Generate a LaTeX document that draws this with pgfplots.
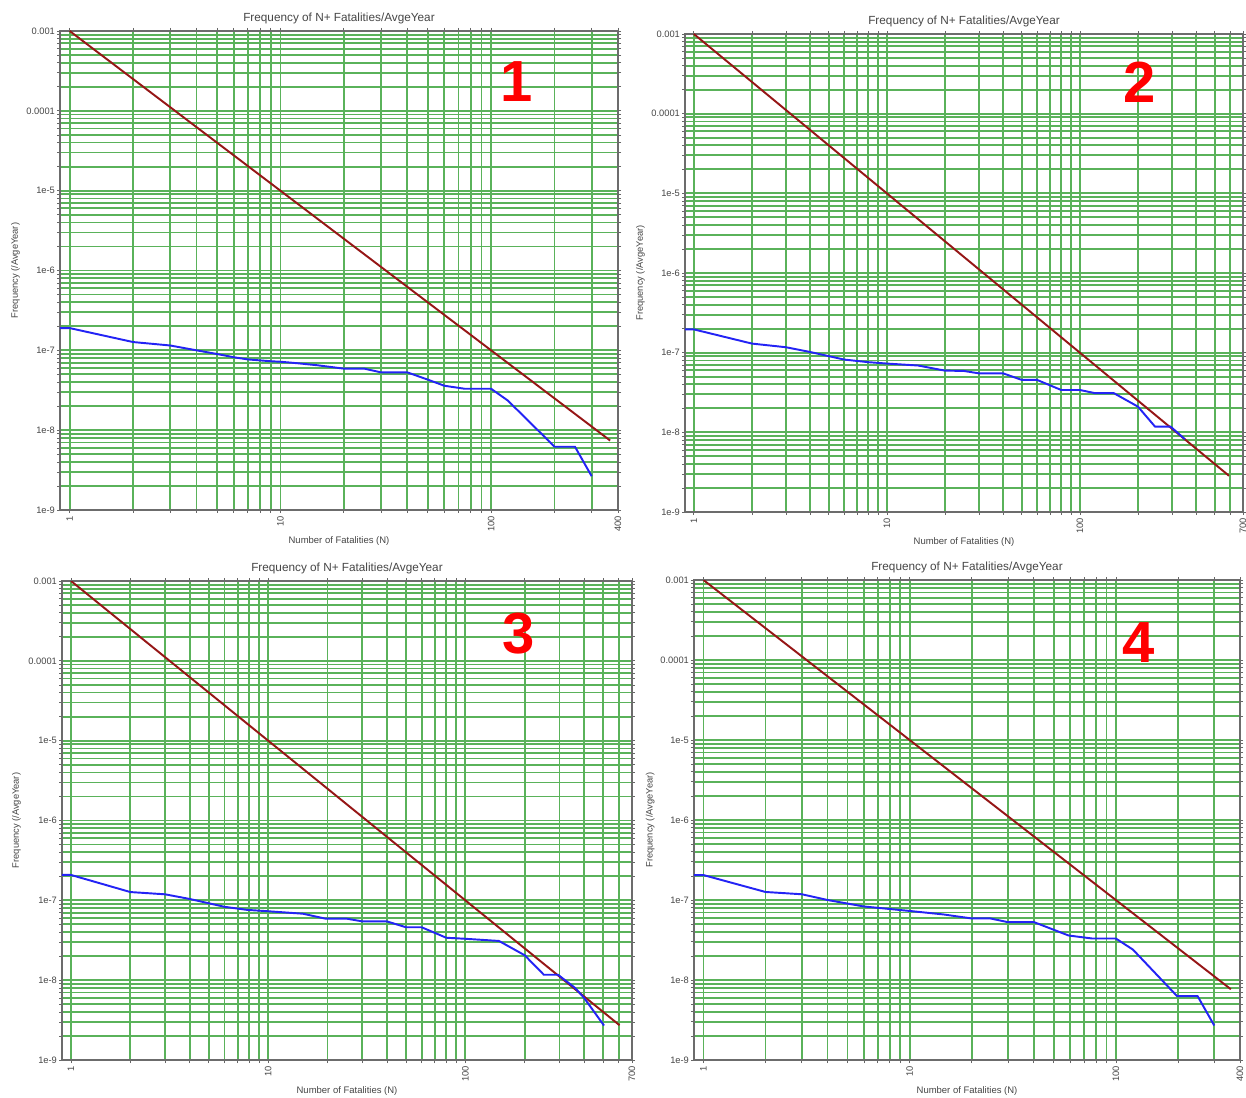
\documentclass[border=0pt]{standalone}
\usepackage{fontspec}
\setmainfont{Liberation Sans}
\usepackage{pgfplots}
\usepackage{pgfplotstable}
\pgfplotsset{compat=1.18}
\definecolor{gridgreen}{RGB}{90,178,90}
\definecolor{fnred}{RGB}{150,22,22}
\definecolor{fnblue}{RGB}{35,35,245}
\definecolor{labgray}{RGB}{70,70,70}
\pgfplotsset{
 fnaxis/.style={
  scale only axis,
  xmin=0.9, ymin=1e-9, ymax=1e-3,
  ytick={1e-9,2e-9,3e-9,4e-9,5e-9,6e-9,7e-9,8e-9,9e-9,1e-8,2e-8,3e-8,4e-8,5e-8,6e-8,7e-8,8e-8,9e-8,1e-7,2e-7,3e-7,4e-7,5e-7,6e-7,7e-7,8e-7,9e-7,1e-6,2e-6,3e-6,4e-6,5e-6,6e-6,7e-6,8e-6,9e-6,1e-5,2e-5,3e-5,4e-5,5e-5,6e-5,7e-5,8e-5,9e-5,1e-4,2e-4,3e-4,4e-4,5e-4,6e-4,7e-4,8e-4,9e-4,1e-3},
  yticklabels={1e-9,,,,,,,,,1e-8,,,,,,,,,1e-7,,,,,,,,,1e-6,,,,,,,,,1e-5,,,,,,,,,0.0001,,,,,,,,,0.001},
  grid=major,
  every axis grid/.style={draw=gridgreen, line width=1pt},
  every major grid/.style={draw=gridgreen, line width=1pt},
  axis line style={draw=gray!85!black, line width=0.8pt},
  tick align=outside,
  major tick length=0.06cm,
  every tick/.style={draw=gray!80!black, line width=0.4pt},
  tick label style={font=\fontsize{5.3}{6}\selectfont, text=labgray},
  yticklabel style={anchor=east, inner sep=1pt},
  xticklabel style={rotate=90, anchor=east, inner sep=1.5pt},
  every axis title/.style={at={(axis description cs:0.5,1.02)}, anchor=base, font=\fontsize{6.7}{8}\selectfont, text=labgray},
  title={Frequency of N+ Fatalities/AvgeYear},
  xlabel style={at={(axis description cs:0.5,-0.069)}, anchor=base, font=\fontsize{5.4}{6}\selectfont, text=labgray},
  xlabel={Number of Fatalities (N)},
  ylabel style={at={(axis description cs:-0.08,0.5)}, anchor=center, font=\fontsize{5.3}{6}\selectfont, text=labgray},
  ylabel={Frequency (/AvgeYear)},
 },
 xfour/.style={xmax=400,
  xtick={1,2,3,4,5,6,7,8,9,10,20,30,40,50,60,70,80,90,100,200,300,400},
  xticklabels={1,,,,,,,,,10,,,,,,,,,100,,,400}},
 xseven/.style={xmax=700,
  xtick={1,2,3,4,5,6,7,8,9,10,20,30,40,50,60,70,80,90,100,200,300,400,500,600,700},
  xticklabels={1,,,,,,,,,10,,,,,,,,,100,,,,,,700}},
}

\pgfplotstableread{
N F
1 1e-3
367 7.42e-9
}\redA
\pgfplotstableread{
N F
1 1e-3
592 2.85e-9
}\redB
\pgfplotstableread{
N F
1 1e-3
605 2.73e-9
}\redC
\pgfplotstableread{
N F
1 1e-3
361 7.67e-9
}\redD

\pgfplotstableread{
N F
0.9 1.9e-7
1 1.9e-7
2 1.27e-7
3 1.15e-7
4 1.0e-7
5 9.0e-8
6 8.2e-8
7 7.7e-8
9 7.3e-8
10 7.2e-8
12 6.9e-8
15 6.5e-8
20 5.9e-8
25 5.9e-8
30 5.3e-8
40 5.3e-8
50 4.3e-8
60 3.6e-8
75 3.3e-8
100 3.3e-8
120 2.35e-8
200 6.2e-9
250 6.2e-9
300 2.65e-9
}\blueA
\pgfplotstableread{
N F
0.9 1.96e-7
1 1.96e-7
2 1.3e-7
3 1.17e-7
4 1.02e-7
6 8.2e-8
8 7.6e-8
10 7.3e-8
14.5 6.9e-8
20 5.95e-8
25 5.9e-8
30 5.5e-8
40 5.5e-8
50 4.55e-8
60 4.55e-8
80 3.4e-8
100 3.4e-8
120 3.1e-8
150 3.1e-8
200 2.1e-8
245 1.18e-8
295 1.18e-8
350 8.2e-9
}\blueB
\pgfplotstableread{
N F
0.9 2.08e-7
1 2.08e-7
2 1.27e-7
3 1.19e-7
4 1.04e-7
6 8.3e-8
7.8 7.6e-8
10 7.3e-8
15 6.8e-8
19.5 5.9e-8
25 5.9e-8
30 5.45e-8
40 5.45e-8
50 4.6e-8
60 4.6e-8
80 3.4e-8
100 3.3e-8
148 3.1e-8
200 2.05e-8
250 1.17e-8
295 1.17e-8
360 8e-9
400 6e-9
505 2.7e-9
}\blueC
\pgfplotstableread{
N F
0.9 2.05e-7
1 2.05e-7
2 1.26e-7
3 1.18e-7
4 1.0e-7
6 8.3e-8
10 7.3e-8
14.6 6.6e-8
19.8 5.9e-8
24.5 5.9e-8
29.8 5.3e-8
40 5.3e-8
59 3.6e-8
77 3.3e-8
100 3.3e-8
121 2.4e-8
198 6.3e-9
249 6.3e-9
300 2.7e-9
}\blueD

\begin{document}
\begin{tikzpicture}
\fill[white] (0,0) rectangle (24.92,21.94);

% Panel 1
\begin{loglogaxis}[fnaxis, xfour, at={(1.2cm,11.74cm)}, anchor=south west,
  width=11.16cm, height=9.58cm]
\addplot[color=fnred, line width=1.1pt, no markers] table[x=N,y=F] {\redA};
\addplot[color=fnblue, line width=1.1pt, no markers] table[x=N,y=F] {\blueA};
\end{loglogaxis}

% Panel 2
\begin{loglogaxis}[fnaxis, xseven, at={(13.7cm,11.7cm)}, anchor=south west,
  width=11.16cm, height=9.56cm]
\addplot[color=fnred, line width=1.1pt, no markers] table[x=N,y=F] {\redB};
\addplot[color=fnblue, line width=1.1pt, no markers] table[x=N,y=F] {\blueB};
\end{loglogaxis}

% Panel 3
\begin{loglogaxis}[fnaxis, xseven, at={(1.24cm,0.74cm)}, anchor=south west,
  width=11.4cm, height=9.58cm]
\addplot[color=fnred, line width=1.1pt, no markers] table[x=N,y=F] {\redC};
\addplot[color=fnblue, line width=1.1pt, no markers] table[x=N,y=F] {\blueC};
\end{loglogaxis}

% Panel 4
\begin{loglogaxis}[fnaxis, xfour, at={(13.88cm,0.74cm)}, anchor=south west,
  width=10.92cm, height=9.6cm]
\addplot[color=fnred, line width=1.1pt, no markers] table[x=N,y=F] {\redD};
\addplot[color=fnblue, line width=1.1pt, no markers] table[x=N,y=F] {\blueD};
\end{loglogaxis}

\begin{scope}[every node/.style={text=red, font=\fontsize{33}{33}\selectfont\bfseries}]
\node at (10.34,20.30) {1};
\node at (22.80,20.30) {2};
\node at (10.38,9.26) {3};
\node at (22.78,9.08) {4};
\end{scope}
\pgfresetboundingbox
\path[use as bounding box] (0,0) rectangle (24.92,21.94);
\end{tikzpicture}
\end{document}
